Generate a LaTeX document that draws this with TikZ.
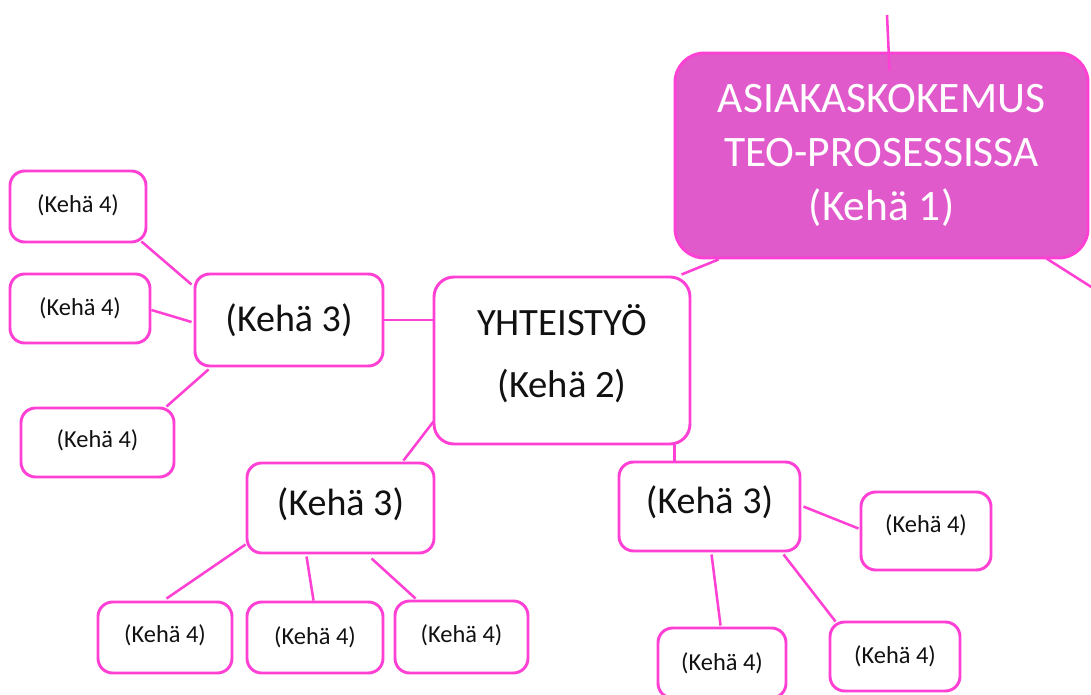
\documentclass[tikz,border=0pt]{standalone}
\usepackage{fontspec}
\setmainfont{Carlito}
\usetikzlibrary{calc}
\definecolor{rim}{HTML}{FF40D4}
\definecolor{corefill}{HTML}{E05ACC}
\definecolor{ink}{HTML}{111111}
% lift the visible text a little without changing the box size
\newcommand{\lift}[2]{\raisebox{#1}[\height][\depth]{#2}}
\begin{document}
\begin{tikzpicture}[x=0.75pt,y=-0.75pt,
  box/.style={draw=rim, line width=2.2pt, fill=white, rounded corners=11pt,
              inner sep=0pt, text=ink},
  leaf/.style={box, font=\fontsize{18.3}{22}\selectfont},
  mid/.style={box, font=\fontsize{28.5}{34}\selectfont},
  link/.style={draw=rim, line width=1.9pt}]
\useasboundingbox (0,0) rectangle (1091,695);
\fill[white] (0,0) rectangle (1091,695);

% core (ring 1)
\node[box, fill=corefill, text=white, rounded corners=22pt, align=center,
      minimum width=309.75pt, minimum height=153.75pt,
      font=\fontsize{32.6}{40.5}\selectfont] (k1) at (881.5,155.5)
      {ASIAKASKOKEMUS\\TEO-PROSESSISSA\\(Kehä 1)};

% ring 2
\node[box, rounded corners=15pt, minimum width=192pt, minimum height=125.25pt,
      font=\fontsize{29}{47}\selectfont] (k2) at (562,360.5)
      {\lift{5pt}{\begin{tabular}{@{}c@{}}YHTEISTYÖ\\(Kehä 2)\end{tabular}}};

% ring 3
\node[mid, minimum width=141pt, minimum height=69pt] (k3a) at (289,320) {(Kehä 3)};
\node[mid, minimum width=140.25pt, minimum height=67.5pt] (k3b) at (340.5,508) {\lift{3pt}{(Kehä 3)}};
\node[mid, minimum width=135.75pt, minimum height=66.75pt] (k3c) at (709.5,506.5) {\lift{3pt}{(Kehä 3)}};

% ring 4
\node[leaf, minimum width=102pt, minimum height=53.25pt] (l1) at (78,206.5) {\lift{1pt}{(Kehä 4)}};
\node[leaf, minimum width=105pt, minimum height=51.75pt] (l2) at (80,308.5) {(Kehä 4)};
\node[leaf, minimum width=114.75pt, minimum height=51.75pt] (l3) at (97.5,442.5) {\lift{1.5pt}{(Kehä 4)}};
\node[leaf, minimum width=100.5pt, minimum height=53.25pt] (b1) at (165,637.5) {\lift{1.5pt}{(Kehä 4)}};
\node[leaf, minimum width=102pt, minimum height=53.25pt] (b2) at (315,637.5) {(Kehä 4)};
\node[leaf, minimum width=99.75pt, minimum height=54pt] (b3) at (461.5,637) {\lift{1.5pt}{(Kehä 4)}};
\node[leaf, minimum width=96pt, minimum height=52.5pt] (c1) at (722,663) {(Kehä 4)};
\node[leaf, minimum width=97.5pt, minimum height=51.75pt] (c2) at (895,656.5) {(Kehä 4)};
\node[leaf, minimum width=97.5pt, minimum height=58.5pt] (c3) at (926,531) {\lift{4pt}{(Kehä 4)}};

% free ends of the links leaving the picture
\coordinate (upend) at (887,15);
\coordinate (rightend) at (1096,290);
\coordinate (c3top) at ($(k3c.north west)+(57,0)$);

% links
\draw[link] (upend) -- ($(k1.north west)+(216,19)$);
\draw[link] ($(k1.south west)+(45,0)$) -- ($(k2.north east)+(-10,-1)$);
\draw[link] ($(k1.south east)+(-43,-1)$) -- (rightend);
\draw[link] (k3a.east) -- (k3a.east -| k2.west);
\draw[link] ($(l1.south east)+(-6,-2)$) -- ($(k3a.north west)+(-2,12)$);
\draw[link] ($(l2.east)+(0,1.5)$) -- ($(k3a.west)+(-2,2)$);
\draw[link] ($(k3a.south west)+(15,2)$) -- ($(l3.north east)+(-9,0)$);
\draw[link] ($(k2.south west)+(1,-24)$) -- ($(k3b.north east)+(-32,-1)$);
\draw[link] (c3top) -- (c3top |- k2.south);
\draw[link] ($(k3b.south west)+(0,-10)$) -- ($(b1.north west)+(70,-2)$);
\draw[link] ($(k3b.south west)+(61,2)$) -- ($(b2.north west)+(68,0)$);
\draw[link] ($(k3b.south west)+(126,4)$) -- ($(b3.north west)+(22,-1)$);
\draw[link] ($(k3c.north east)+(2,46)$) -- ($(c3.north west)+(-1,38)$);
\draw[link] ($(k3c.south west)+(94,2)$) -- ($(c1.north west)+(64,-1)$);
\draw[link] ($(k3c.south west)+(166,2)$) -- ($(c2.north west)+(7,1)$);
\end{tikzpicture}
\end{document}
